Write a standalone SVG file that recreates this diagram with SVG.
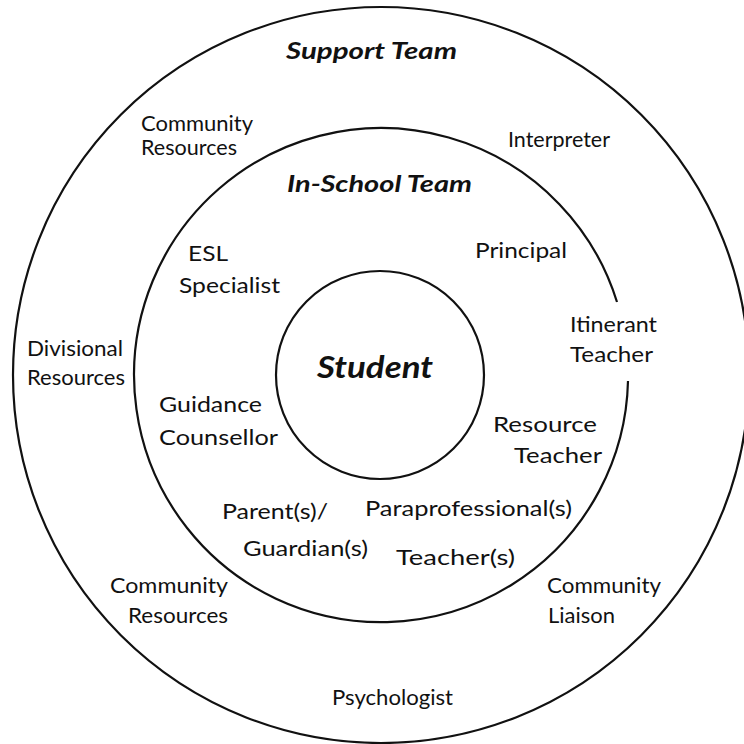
<svg xmlns="http://www.w3.org/2000/svg" width="744" height="744" viewBox="0 0 744 744">
<style>
  .ring { fill: none; stroke: #111; stroke-width: 2.2; }
  .lbl { font-family: Lato, "Liberation Sans", "DejaVu Sans", sans-serif; font-size: 22px; fill: #111; }
  .out { font-size: 21px; }
  .title { font-family: Lato, "Liberation Sans", "DejaVu Sans", sans-serif; font-weight: bold; font-style: italic; font-size: 23px; fill: #111; }
  .student { font-size: 31px; }
</style>
<rect x="0" y="0" width="744" height="744" fill="#fff"/>

<g id="support-team">
  <circle class="ring" cx="381" cy="375" r="368"/>
  <text class="title" x="286" y="59" textLength="171" lengthAdjust="spacingAndGlyphs">Support Team</text>
</g>

<g id="in-school-team">
  <path class="ring" d="M 628 381 A 247 247 0 1 1 617 302"/>
  <text class="title" x="287" y="192" textLength="185" lengthAdjust="spacingAndGlyphs">In-School Team</text>
</g>

<g id="student">
  <circle class="ring" cx="380" cy="375" r="104"/>
  <text class="title student" x="317" y="378" textLength="116" lengthAdjust="spacingAndGlyphs">Student</text>
</g>

<g id="community-resources-top">
  <text class="lbl out" x="141" y="131" textLength="112" lengthAdjust="spacingAndGlyphs">Community</text>
  <text class="lbl out" x="141" y="155" textLength="96" lengthAdjust="spacingAndGlyphs">Resources</text>
</g>

<g id="interpreter">
  <text class="lbl out" x="508" y="147" textLength="102" lengthAdjust="spacingAndGlyphs">Interpreter</text>
</g>

<g id="esl-specialist">
  <text class="lbl" x="188" y="261" textLength="40" lengthAdjust="spacingAndGlyphs">ESL</text>
  <text class="lbl" x="179" y="293" textLength="101" lengthAdjust="spacingAndGlyphs">Specialist</text>
</g>

<g id="principal">
  <text class="lbl" x="475" y="258" textLength="92" lengthAdjust="spacingAndGlyphs">Principal</text>
</g>

<g id="itinerant-teacher">
  <text class="lbl out" x="570" y="332" textLength="87" lengthAdjust="spacingAndGlyphs">Itinerant</text>
  <text class="lbl out" x="570" y="362" textLength="83" lengthAdjust="spacingAndGlyphs">Teacher</text>
</g>

<g id="divisional-resources">
  <text class="lbl out" x="27" y="356" textLength="96" lengthAdjust="spacingAndGlyphs">Divisional</text>
  <text class="lbl out" x="27" y="385" textLength="98" lengthAdjust="spacingAndGlyphs">Resources</text>
</g>

<g id="guidance-counsellor">
  <text class="lbl" x="159" y="412" textLength="103" lengthAdjust="spacingAndGlyphs">Guidance</text>
  <text class="lbl" x="159" y="445" textLength="119" lengthAdjust="spacingAndGlyphs">Counsellor</text>
</g>

<g id="resource-teacher">
  <text class="lbl" x="493" y="432" textLength="104" lengthAdjust="spacingAndGlyphs">Resource</text>
  <text class="lbl" x="514" y="463" textLength="88" lengthAdjust="spacingAndGlyphs">Teacher</text>
</g>

<g id="parents-guardians">
  <text class="lbl" x="222" y="519" textLength="106" lengthAdjust="spacingAndGlyphs">Parent(s)/</text>
  <text class="lbl" x="243" y="556" textLength="125" lengthAdjust="spacingAndGlyphs">Guardian(s)</text>
</g>

<g id="paraprofessionals">
  <text class="lbl" x="365" y="516" textLength="207" lengthAdjust="spacingAndGlyphs">Paraprofessional(s)</text>
</g>

<g id="teachers">
  <text class="lbl" x="396" y="565" textLength="119" lengthAdjust="spacingAndGlyphs">Teacher(s)</text>
</g>

<g id="community-resources-bottom">
  <text class="lbl out" x="110" y="593" textLength="118" lengthAdjust="spacingAndGlyphs">Community</text>
  <text class="lbl out" x="128" y="623" textLength="100" lengthAdjust="spacingAndGlyphs">Resources</text>
</g>

<g id="community-liaison">
  <text class="lbl out" x="547" y="593" textLength="114" lengthAdjust="spacingAndGlyphs">Community</text>
  <text class="lbl out" x="548" y="623" textLength="67" lengthAdjust="spacingAndGlyphs">Liaison</text>
</g>

<g id="psychologist">
  <text class="lbl out" x="332" y="705" textLength="121" lengthAdjust="spacingAndGlyphs">Psychologist</text>
</g>
</svg>
